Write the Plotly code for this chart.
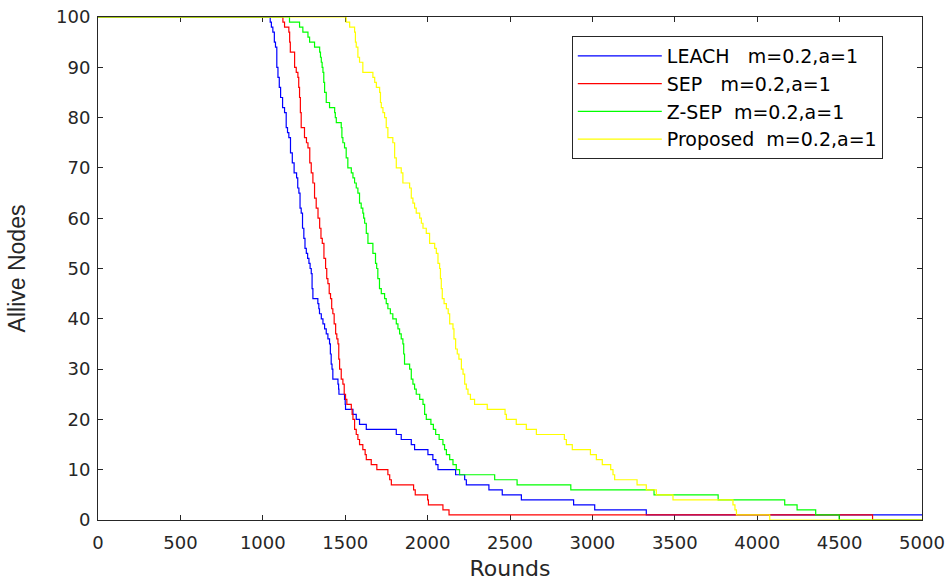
import plotly.graph_objects as go

# ---- data (round at which the alive count changes, alive count from that round on) ----
leach_rounds = [0, 1045, 1052, 1061, 1070, 1077, 1085, 1092, 1100, 1108, 1120, 1132, 1142, 1150, 1158,
                1168, 1179, 1190, 1205, 1212, 1219, 1226, 1233, 1241, 1249, 1256, 1264, 1272, 1280,
                1287, 1294, 1299, 1304, 1334, 1340, 1344, 1355, 1365, 1375, 1385, 1395, 1405, 1410,
                1415, 1420, 1425, 1456, 1460, 1462, 1496, 1500, 1502, 1547, 1567, 1587, 1628, 1810,
                1840, 1901, 1921, 2002, 2032, 2050, 2063, 2170, 2225, 2235, 2372, 2453, 2569, 2886,
                3014, 3327, 5000]
leach_alive = [100, 99, 98, 97, 95, 94, 90, 88, 86, 84, 82, 81, 78, 77, 76,
               73, 71, 69, 68, 66, 65, 62, 61, 58, 56, 54, 53, 52, 51,
               50, 49, 46, 44, 43, 42, 41, 40, 39, 38, 37, 36, 35, 33,
               31, 30, 28, 27, 26, 25, 24, 23, 22, 21, 20, 19, 18, 17,
               16, 15, 14, 13, 12, 11, 10, 9, 8, 7, 6, 5, 4, 3,
               2, 1, 1]

sep_rounds = [0, 1122, 1132, 1158, 1163, 1167, 1193, 1203, 1213, 1218, 1223, 1228, 1233, 1253, 1265,
              1274, 1285, 1294, 1304, 1314, 1324, 1335, 1345, 1353, 1361, 1371, 1381, 1388, 1395,
              1403, 1411, 1418, 1425, 1433, 1442, 1449, 1456, 1461, 1466, 1476, 1486, 1494, 1502,
              1510, 1537, 1542, 1547, 1557, 1567, 1577, 1587, 1607, 1621, 1628, 1658, 1692, 1759,
              1770, 1780, 1915, 1925, 2000, 2005, 2093, 2130, 4700, 5000]
sep_alive = [100, 99, 98, 97, 95, 93, 90, 89, 88, 86, 84, 81, 78, 76, 75,
             74, 71, 69, 67, 64, 62, 60, 58, 56, 55, 52, 50, 48, 47,
             45, 44, 42, 41, 39, 37, 36, 35, 32, 30, 28, 27, 25, 24,
             23, 22, 21, 20, 18, 17, 16, 15, 14, 13, 12, 11, 10, 9,
             8, 7, 6, 5, 4, 3, 2, 1, 0, 0]

zsep_rounds = [0, 1162, 1223, 1243, 1274, 1284, 1314, 1345, 1350, 1355, 1360, 1365, 1370, 1375, 1385,
               1405, 1436, 1440, 1446, 1476, 1480, 1486, 1496, 1506, 1516, 1537, 1547, 1557, 1567,
               1577, 1587, 1597, 1607, 1612, 1618, 1628, 1638, 1668, 1684, 1691, 1698, 1708, 1719,
               1739, 1749, 1759, 1774, 1789, 1810, 1820, 1830, 1840, 1850, 1855, 1860, 1891, 1901,
               1911, 1921, 1931, 1952, 1972, 1982, 1992, 2020, 2035, 2049, 2070, 2093, 2103, 2114,
               2134, 2154, 2174, 2194, 2407, 2543, 2869, 3374, 3763, 4167, 4242, 4355, 4497, 5000]
zsep_alive = [100, 99, 98, 97, 96, 95, 94, 93, 92, 91, 90, 89, 87, 85, 83,
              82, 81, 80, 79, 78, 76, 75, 74, 72, 70, 69, 68, 67, 66,
              65, 63, 62, 61, 60, 59, 57, 55, 53, 51, 50, 48, 46, 45,
              44, 43, 42, 41, 40, 39, 38, 37, 36, 35, 33, 31, 30, 28,
              27, 26, 25, 24, 23, 21, 20, 19, 18, 17, 16, 15, 14, 13,
              12, 11, 10, 9, 8, 7, 6, 5, 4, 3, 2, 1, 0, 0]

prop_rounds = [0, 1506, 1527, 1557, 1562, 1567, 1577, 1587, 1607, 1668, 1679, 1689, 1709, 1714, 1719,
               1729, 1739, 1749, 1759, 1789, 1800, 1810, 1840, 1850, 1891, 1901, 1911, 1921, 1931,
               1952, 1962, 1972, 1992, 2012, 2043, 2053, 2063, 2073, 2078, 2083, 2089, 2100, 2114,
               2125, 2134, 2154, 2160, 2170, 2180, 2190, 2205, 2215, 2225, 2235, 2245, 2260, 2285,
               2362, 2470, 2478, 2538, 2599, 2660, 2830, 2842, 2878, 2988, 3024, 3060, 3111, 3125,
               3135, 3271, 3327, 3388, 3489, 3853, 3865, 3874, 4076, 5000]
prop_alive = [100, 99, 98, 97, 95, 94, 92, 91, 89, 88, 87, 86, 85, 83, 82,
              81, 80, 78, 76, 75, 72, 70, 69, 67, 66, 64, 63, 62, 61,
              60, 59, 58, 57, 55, 54, 53, 51, 50, 48, 46, 44, 43, 42,
              41, 39, 38, 36, 34, 33, 32, 30, 29, 27, 26, 25, 24, 23,
              22, 21, 20, 19, 18, 17, 16, 15, 14, 13, 12, 11, 10, 9,
              8, 7, 6, 5, 4, 3, 2, 1, 0, 0]

series_names = ["LEACH\u00a0\u00a0\u00a0m=0.2,a=1", "SEP\u00a0\u00a0\u00a0m=0.2,a=1",
                "Z-SEP\u00a0\u00a0m=0.2,a=1", "Proposed\u00a0\u00a0m=0.2,a=1"]
series_colors = ["#0000FF", "#FF0000", "#00FF00", "#FFFF00"]
x_ticks = list(range(0, 5001, 500))
y_ticks = list(range(0, 101, 10))

series = [(leach_rounds, leach_alive), (sep_rounds, sep_alive),
          (zsep_rounds, zsep_alive), (prop_rounds, prop_alive)]

fig = go.Figure()
for (xs, ys), name, col in zip(series, series_names, series_colors):
    fig.add_trace(go.Scatter(x=xs, y=ys, mode="lines", name=name,
                             line=dict(color=col, width=1.2, shape="hv")))

axis_col = "#262626"
tick_font = dict(family="DejaVu Sans", size=18, color=axis_col)
fig.update_xaxes(range=[0, 5000], tickvals=x_ticks, ticks="inside", ticklen=5, tickcolor=axis_col,
                 showline=True, linecolor=axis_col, linewidth=1, mirror="ticks", showgrid=False,
                 zeroline=False, tickfont=tick_font, layer="below traces", ticklabelstandoff=6,
                 ticklabeloverflow="allow",
                 title=dict(text="Rounds", font=dict(family="DejaVu Sans", size=22, color=axis_col),
                            standoff=9))
fig.update_yaxes(range=[0, 100], tickvals=y_ticks, ticks="inside", ticklen=5, tickcolor=axis_col,
                 showline=True, linecolor=axis_col, linewidth=1, mirror="ticks", showgrid=False,
                 zeroline=False, tickfont=tick_font, layer="below traces", ticklabelstandoff=3,
                 ticklabeloverflow="allow",
                 title=dict(text="Allive Nodes", font=dict(family="Liberation Sans", size=23, color=axis_col),
                            standoff=23))
fig.update_layout(
    width=952, height=583,
    margin=dict(l=98, r=30, t=17, b=63, autoexpand=False),
    plot_bgcolor="white", paper_bgcolor="white",
    legend=dict(x=0.575, y=0.962, xanchor="left", yanchor="top", bgcolor="white",
                bordercolor=axis_col, borderwidth=1, itemwidth=84, tracegroupgap=0,
                font=dict(family="DejaVu Sans", size=19, color="black")),
)
fig.write_html("out.html", config={"displayModeBar": False},
               post_script="document.body.style.margin='0';document.body.style.overflow='hidden';")
